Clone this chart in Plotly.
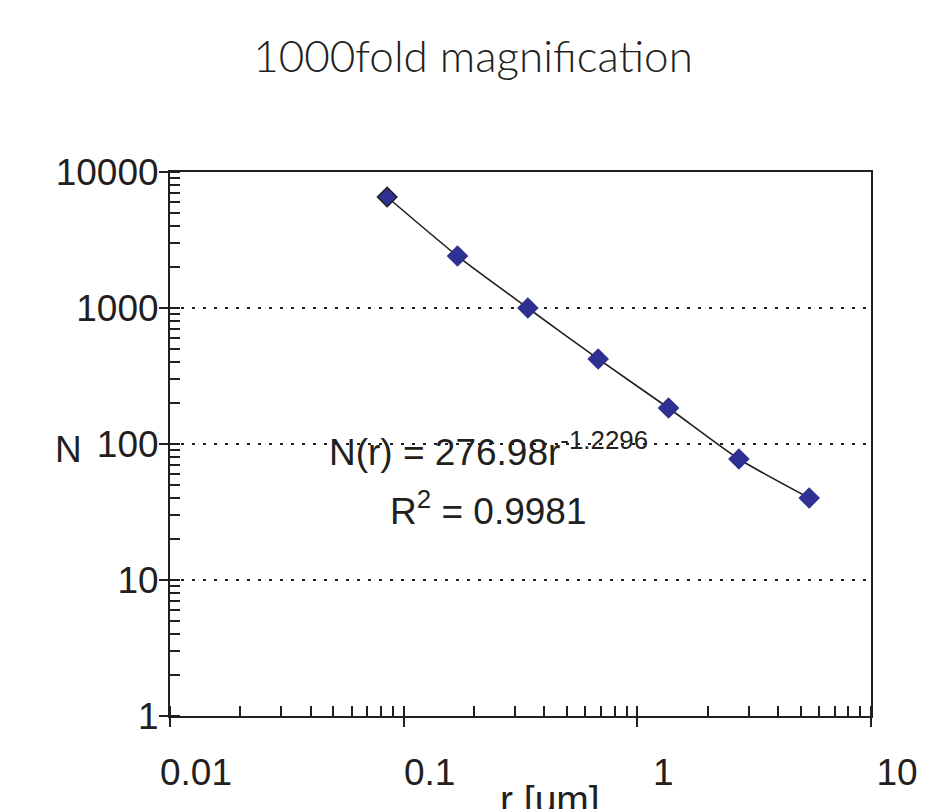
import plotly.graph_objects as go

# Data
r_um = [0.085, 0.17, 0.34, 0.68, 1.36, 2.72, 5.44]
N_counts = [6550, 2410, 1000, 422, 184, 77.6, 40.1]

x_tickvals = [0.01, 0.1, 1, 10]
x_ticktext = ["0.01", "0.1", "1", "10"]
y_tickvals = [1, 10, 100, 1000, 10000]
y_ticktext = ["1", "10", "100", "1000", "10000"]

title_text = "1000fold magnification"
eq_text = "N(r) = 276.98r<sup>-1.2296</sup>"
r2_text = "R<sup>2</sup> = 0.9981"

navy = "#2E3192"
ink = "#231F20"
tick_font = dict(family="Liberation Sans, Arial", size=37, color=ink)
label_font = dict(family="Liberation Sans, Arial", size=37, color=ink)

fig = go.Figure()

# trend line (smoothed through the data)
fig.add_trace(go.Scatter(
    x=r_um, y=N_counts, mode="lines",
    line=dict(color=ink, width=1.6, shape="spline", smoothing=0.6),
    hoverinfo="skip", showlegend=False))

# data points
fig.add_trace(go.Scatter(
    x=r_um, y=N_counts, mode="markers",
    marker=dict(symbol="diamond", size=15, color=navy,
                line=dict(color=[ink] + [navy] * (len(r_um) - 1), width=1.5)),
    showlegend=False))

# invisible trace for overlay axes (inside half of major ticks)
fig.add_trace(go.Scatter(x=[r_um[0]], y=[N_counts[0]], xaxis="x2", yaxis="y2",
                         mode="markers", marker=dict(opacity=0), hoverinfo="skip",
                         showlegend=False))

fig.update_layout(
    width=927, height=809,
    margin=dict(l=162, r=64, t=164, b=101),
    paper_bgcolor="white", plot_bgcolor="white",
    title=dict(text=title_text, x=465 / 927, xref="container", xanchor="center",
               y=1 - 49 / 809, yref="container", yanchor="middle",
               font=dict(family="Lato, Open Sans", size=44, color=ink, weight=300)),
    xaxis=dict(
        type="log", range=[-2, 1],
        tickmode="array", tickvals=x_tickvals, ticktext=x_ticktext,
        ticks="outside", ticklen=9, tickwidth=1.5, tickcolor=ink,
        showline=True, linecolor=ink, linewidth=2, mirror=True,
        showgrid=False, zeroline=False,
        tickfont=tick_font, ticklabelstandoff=14, ticklabelshift=26,
        minor=dict(ticks="inside", ticklen=10, tickwidth=1.5, tickcolor=ink,
                   dtick="D1", showgrid=False),
    ),
    yaxis=dict(
        type="log", range=[0, 4],
        tickmode="array", tickvals=y_tickvals, ticktext=y_ticktext,
        ticks="outside", ticklen=9, tickwidth=1.5, tickcolor=ink,
        showline=True, linecolor=ink, linewidth=2, mirror=True,
        showgrid=True, gridcolor=ink, gridwidth=2, griddash="3px,8px",
        zeroline=False,
        tickfont=tick_font, ticklabelstandoff=-7,
        minor=dict(ticks="inside", ticklen=10, tickwidth=1.5, tickcolor=ink,
                   dtick="D1", showgrid=False),
    ),
    xaxis2=dict(type="log", range=[-2, 1], overlaying="x", anchor="y2",
                tickmode="array", tickvals=x_tickvals, ticks="inside", ticklen=10,
                tickwidth=1.5, tickcolor=ink, showticklabels=False,
                showgrid=False, zeroline=False, showline=False),
    yaxis2=dict(type="log", range=[0, 4], overlaying="y", anchor="x2",
                tickmode="array", tickvals=y_tickvals, ticks="inside", ticklen=10,
                tickwidth=1.5, tickcolor=ink, showticklabels=False,
                showgrid=False, zeroline=False, showline=False),
    annotations=[
        dict(text=eq_text, xref="paper", yref="paper", x=0.454, y=0.489,
             xanchor="center", yanchor="middle", showarrow=False, font=label_font),
        dict(text=r2_text, xref="paper", yref="paper", x=0.454, y=0.382,
             xanchor="center", yanchor="middle", showarrow=False, font=label_font),
        dict(text="N", xref="paper", yref="paper", x=(68.5 - 170) / 701, y=0.489,
             xanchor="center", yanchor="middle", showarrow=False, font=label_font),
        dict(text="r [um]", xref="paper", yref="paper", x=0.542, y=(716 - 799) / 544,
             xanchor="center", yanchor="middle", showarrow=False,
             font=dict(family="Liberation Sans, Arial", size=39, color=ink)),
    ],
)

fig.write_html("out.html")
